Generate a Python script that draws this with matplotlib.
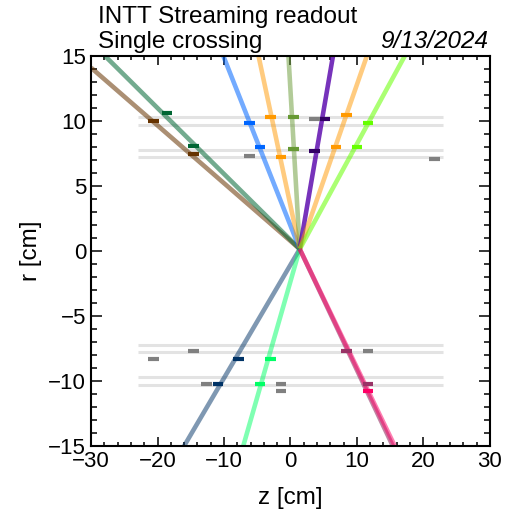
import numpy as np
import matplotlib
matplotlib.use("Agg")
import matplotlib.pyplot as plt
from matplotlib.ticker import MultipleLocator

plt.rcParams['font.family'] = ['Liberation Sans', 'DejaVu Sans']

# collision vertex (z, r) in cm
vertex = (1.4, 0.15)

# INTT ladder radii (cm), same on both sides
ladder_r = [7.2, 7.8, 9.7, 10.3]
ladder_zmin, ladder_zmax = -23.0, 23.0

# tracks: end point at plot edge, hit colour
track_z_end = [-30.0, -27.9, -10.1, -4.8, -0.3, 6.4, 11.5, 17.2, -16.0, -7.1, 15.4, 15.7]
track_r_end = [14.1, 15.0, 15.0, 15.0, 15.0, 15.0, 15.0, 15.0, -15.0, -15.0, -15.0, -15.0]
track_colors = ['#663300', '#006633', '#0066ff', '#ff9900', '#669933', '#5500aa',
                '#ff9900', '#66ff00', '#003366', '#00ff66', '#993366', '#ff0066']
track_alpha = [0.55, 0.55, 0.55, 0.5, 0.5, 0.8, 0.5, 0.55, 0.5, 0.5, 0.6, 0.5]

# clusters (z, r, colour)
hit_z = [-20.6, -18.6, -14.6, -14.6, -6.2, -4.6, -6.2, -3.0, -1.4, 0.5, 0.5,
         3.6, 5.2, 3.6, 8.45, 6.84, 11.65, 10.0, 21.7,
         -14.6, -20.6, -7.8, -12.6, -10.9, -3.0, -4.6, -1.4, -1.4,
         8.45, 11.65, 11.65, 11.65]
hit_r = [9.98, 10.59, 8.05, 7.48, 9.85, 7.98, 7.33, 10.28, 7.2, 10.3, 7.82,
         10.15, 10.15, 7.67, 10.44, 7.98, 9.85, 7.98, 7.1,
         -7.67, -8.3, -8.3, -10.2, -10.2, -8.28, -10.2, -10.2, -10.8,
         -7.7, -7.67, -10.2, -10.8]
hit_c = ['#663300', '#006633', '#006633', '#663300', '#0066ff', '#0066ff', '#808080',
         '#ff9900', '#ff9900', '#669933', '#669933',
         '#808080', '#330066', '#330066', '#ff9900', '#ff9900', '#66ff00', '#66ff00', '#808080',
         '#808080', '#808080', '#003366', '#808080', '#003366', '#00ff66', '#00ff66',
         '#808080', '#808080',
         '#993366', '#808080', '#993366', '#ff0066']
hit_halfwidth = 0.8

fig = plt.figure(figsize=(5.06, 5.21), dpi=100)
ax = fig.add_axes([0.180, 0.144, 0.788, 0.7485])

# ladders
for r in ladder_r:
    for sgn in (1, -1):
        ax.plot([ladder_zmin, ladder_zmax], [sgn * r, sgn * r], color='#e3e3e3',
                lw=2.2, solid_capstyle='butt', zorder=1)

# tracks
for ze, re, c, a in zip(track_z_end, track_r_end, track_colors, track_alpha):
    ax.plot([vertex[0], ze], [vertex[1], re], color=c, alpha=a, lw=3.3,
            solid_capstyle='butt', zorder=2)

# clusters
for z, r, c in zip(hit_z, hit_r, hit_c):
    ax.plot([z - hit_halfwidth, z + hit_halfwidth], [r, r], color=c, lw=3.0,
            solid_capstyle='butt', zorder=3)

ax.set_xlim(-30, 30)
ax.set_ylim(-15, 15)
ax.xaxis.set_major_locator(MultipleLocator(10))
ax.xaxis.set_minor_locator(MultipleLocator(2))
ax.yaxis.set_major_locator(MultipleLocator(5))
ax.yaxis.set_minor_locator(MultipleLocator(1))
ax.tick_params(axis='both', which='both', direction='in', top=True, right=True,
               labelsize=16, width=1.1)
ax.tick_params(axis='x', which='major', length=6.5, pad=3.5)
ax.tick_params(axis='x', which='minor', length=3)
ax.tick_params(axis='y', which='major', length=7.7, pad=3.5)
ax.tick_params(axis='y', which='minor', length=4)
for sp in ax.spines.values():
    sp.set_linewidth(1.5)

ax.set_xlabel('z [cm]', fontsize=17.5)
ax.set_ylabel('r [cm]', fontsize=17.5)
ax.xaxis.set_label_coords(0.5, -0.105)
ax.yaxis.set_label_coords(-0.122, 0.5)

fig.text(0.194, 0.9564, 'INTT Streaming readout', fontsize=17.5, va='baseline')
fig.text(0.194, 0.9079, 'Single crossing', fontsize=17.5, va='baseline')
fig.text(0.9644, 0.9079, '9/13/2024', fontsize=17.5, va='baseline', ha='right',
         style='italic')

fig.savefig('out.png', dpi=100)
